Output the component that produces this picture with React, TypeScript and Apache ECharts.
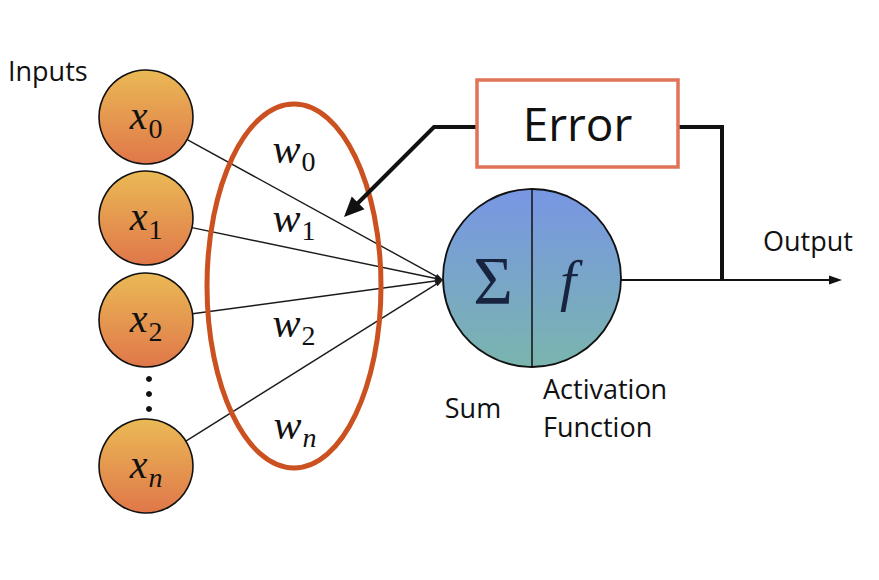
import React, { useEffect, useRef } from "react";
import * as echarts from "echarts";

// labels of the diagram
const INPUT_SUBS = ["0", "1", "2", "n"];
const WEIGHT_SUBS = ["0", "1", "2", "n"];
const TITLES = { inputs: "Inputs", error: "Error", output: "Output", sum: "Sum" };
const ACTIVATION_LINES = ["Activation", "Function"];

// layout
const INPUT_X = 146;
const INPUT_R = 47;
const INPUT_Y = [117, 218, 320, 466];
const WEIGHT_POS = [
  [294, 149],
  [294, 218],
  [294, 323],
  [295, 425],
];
const NODE = { cx: 532, cy: 278, r: 89 };
const JOIN = { x: 443, y: 280 };
const ERR_BOX = { x: 477, y: 80, w: 201, h: 87 };

const SERIF = "Liberation Serif";
const SANS = "Open Sans";

const arrowHead = (tx: number, ty: number, fx: number, fy: number, len: number, half: number) => {
  const dx = tx - fx;
  const dy = ty - fy;
  const d = Math.hypot(dx, dy);
  const ux = dx / d;
  const uy = dy / d;
  const bx = tx - ux * len;
  const by = ty - uy * len;
  return [
    [tx, ty],
    [bx - uy * half, by + ux * half],
    [bx + uy * half, by - ux * half],
  ];
};

const txt = (x: number, y: number, text: string, size: number, family: string, opts: any = {}) => ({
  type: "text",
  x,
  y,
  style: {
    text,
    fontSize: size,
    fontFamily: family,
    fontStyle: opts.italic ? "italic" : "normal",
    fill: opts.fill || "#111",
    textAlign: opts.align || "center",
    textVerticalAlign: "middle",
  },
});

// italic letter with a subscript, as one rich text
const subText = (x: number, y: number, base: string, sub: string, size: number) => ({
  type: "text",
  x,
  y,
  style: {
    text: `{b|${base}}{s|${sub}}`,
    fill: "#111",
    textAlign: "center",
    textVerticalAlign: "middle",
    rich: {
      b: {
        fontSize: size,
        fontFamily: SERIF,
        fontStyle: "italic",
        lineHeight: size,
        verticalAlign: "top",
        fill: "#111",
      },
      s: {
        fontSize: 28,
        fontFamily: SERIF,
        fontStyle: sub === "n" ? "italic" : "normal",
        lineHeight: 28,
        verticalAlign: "top",
        padding: [19, 0, 0, 1],
        fill: "#111",
      },
    },
  },
});

const App: React.FC = () => {
  const chartRef = useRef<HTMLDivElement>(null);

  useEffect(() => {
    document.body.style.margin = "0";
    if (!chartRef.current) return;
    const chart = echarts.init(chartRef.current, null, { renderer: "svg" });

    const elements: any[] = [];

    // input -> sum connections
    INPUT_Y.forEach((y) => {
      const dx = JOIN.x - INPUT_X;
      const dy = JOIN.y - y;
      const d = Math.hypot(dx, dy);
      const sx = INPUT_X + (dx / d) * INPUT_R;
      const sy = y + (dy / d) * INPUT_R;
      elements.push({
        type: "line",
        shape: { x1: sx, y1: sy, x2: JOIN.x - (dx / d) * 6, y2: JOIN.y - (dy / d) * 6 },
        style: { stroke: "#1a1a1a", lineWidth: 1.4 },
      });
      elements.push({
        type: "polygon",
        shape: { points: arrowHead(JOIN.x, JOIN.y, sx, sy, 8, 2.5) },
        style: { fill: "#1a1a1a" },
      });
    });

    // weights ellipse
    elements.push({
      type: "ellipse",
      shape: { cx: 294, cy: 286, rx: 87, ry: 182 },
      style: { fill: "none", stroke: "#CB5220", lineWidth: 5 },
    });

    // feedback from error box
    elements.push({
      type: "polyline",
      shape: { points: [[ERR_BOX.x, 127], [434, 127], [356, 205]] },
      style: { stroke: "#111", lineWidth: 4, fill: "none" },
    });
    elements.push({
      type: "polygon",
      shape: { points: arrowHead(344, 217, 434, 127, 20, 9) },
      style: { fill: "#111" },
    });
    elements.push({
      type: "polyline",
      shape: { points: [[ERR_BOX.x + ERR_BOX.w, 127], [722, 127], [722, 280]] },
      style: { stroke: "#111", lineWidth: 4, fill: "none" },
    });

    // output
    elements.push({
      type: "line",
      shape: { x1: NODE.cx + NODE.r, y1: 280, x2: 830, y2: 280 },
      style: { stroke: "#111", lineWidth: 2 },
    });
    elements.push({
      type: "polygon",
      shape: { points: arrowHead(842, 280, 800, 280, 13, 4.5) },
      style: { fill: "#111" },
    });

    // error box
    elements.push({
      type: "rect",
      shape: { x: ERR_BOX.x, y: ERR_BOX.y, width: ERR_BOX.w, height: ERR_BOX.h },
      style: { fill: "#fff", stroke: "#E07358", lineWidth: 3.5 },
    });
    elements.push(txt(ERR_BOX.x + ERR_BOX.w / 2, ERR_BOX.y + ERR_BOX.h / 2 - 1, TITLES.error, 46, SANS));

    // input nodes
    INPUT_Y.forEach((y, i) => {
      elements.push({
        type: "circle",
        shape: { cx: INPUT_X, cy: y, r: INPUT_R },
        style: {
          fill: {
            type: "linear", x: 0, y: 0, x2: 0, y2: 1,
            colorStops: [
              { offset: 0, color: "#EAB955" },
              { offset: 1, color: "#E0774A" },
            ],
          },
          stroke: "#111",
          lineWidth: 1.6,
        },
      });
      elements.push(subText(INPUT_X, y - 2, "x", INPUT_SUBS[i], 40));
    });

    // ellipsis dots
    [379, 394, 409].forEach((y) => {
      elements.push({ type: "circle", shape: { cx: 149, cy: y, r: 3 }, style: { fill: "#111" } });
    });

    // weights
    WEIGHT_POS.forEach(([x, y], i) => {
      elements.push(subText(x, y, "w", WEIGHT_SUBS[i], 42));
    });

    // sum / activation node
    elements.push({
      type: "circle",
      shape: { cx: NODE.cx, cy: NODE.cy, r: NODE.r },
      style: {
        fill: {
          type: "linear", x: 0, y: 0, x2: 0, y2: 1,
          colorStops: [
            { offset: 0, color: "#7896E4" },
            { offset: 1, color: "#7AB5AE" },
          ],
        },
        stroke: "#111",
        lineWidth: 1.8,
      },
    });
    elements.push({
      type: "line",
      shape: { x1: NODE.cx, y1: NODE.cy - NODE.r, x2: NODE.cx, y2: NODE.cy + NODE.r },
      style: { stroke: "#111", lineWidth: 1.5 },
    });
    elements.push(txt(493, 280, "Σ", 68, SERIF, { fill: "#18233F" }));
    elements.push(txt(568, 280, "f", 58, SERIF, { italic: true, fill: "#18233F" }));

    // captions
    elements.push(txt(8, 70, TITLES.inputs, 27, SANS, { align: "left" }));
    elements.push(txt(808, 240, TITLES.output, 27, SANS));
    elements.push(txt(473, 407, TITLES.sum, 27, SANS));
    ACTIVATION_LINES.forEach((t, i) => {
      elements.push(txt(543, 388 + i * 38, t, 27, SANS, { align: "left" }));
    });

    chart.setOption({
      animation: false,
      backgroundColor: "#fff",
      graphic: { elements },
    });

    return () => {
      chart.dispose();
    };
  }, []);

  return <div ref={chartRef} style={{ width: 879, height: 580 }} />;
};

export default App;
